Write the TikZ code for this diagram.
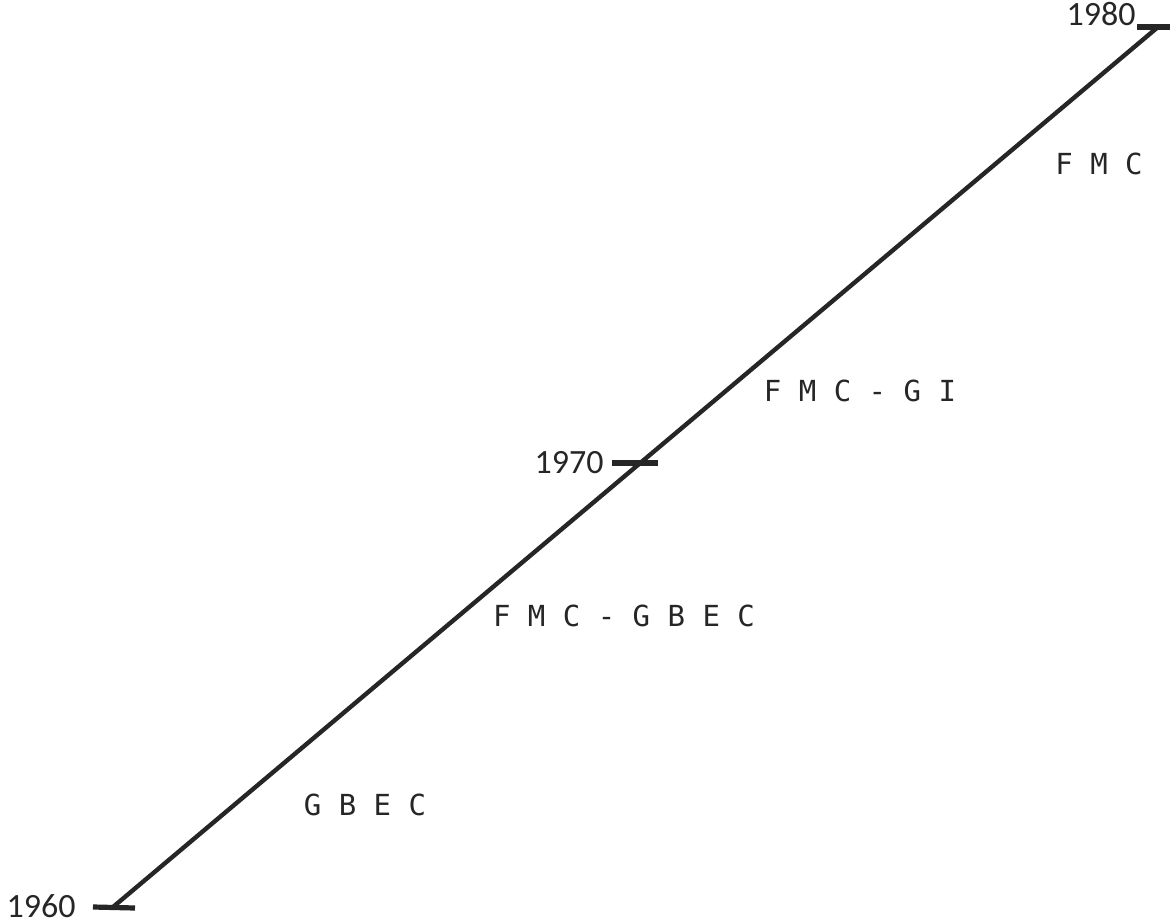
\documentclass[tikz,border=0pt]{standalone}
\usepackage{fontspec}
\newfontfamily\yearfont{Carlito}
\newfontfamily\labfont{DejaVu Sans Mono}
\begin{document}
\begin{tikzpicture}[x=0.5pt,y=-0.5pt,
  axis/.style={line width=2.2pt,color=black!85},
  tickmark/.style={line width=2.6pt,color=black!85},
  year/.style={font=\yearfont\fontsize{17}{17}\selectfont,text=black!85,inner sep=0pt},
  lab/.style={font=\labfont\fontsize{14.5}{14.5}\selectfont,text=black!85,inner sep=0pt}]
\useasboundingbox (0,0) rectangle (1170,924);
\coordinate (p60) at (113,907);
\coordinate (p70) at (634,463);
\coordinate (p80) at (1158,27);
\draw[axis] (p60) -- (p80);
\coordinate (t60a) at (93,907); \coordinate (t60b) at (135,908);
\coordinate (t70a) at (612,463); \coordinate (t70b) at (658,463);
\coordinate (t80a) at (1137,27); \coordinate (t80b) at (1170,27);
\draw[tickmark] (t60a) -- (t60b);
\draw[tickmark] (t70a) -- (t70b);
\draw[tickmark] (t80a) -- (t80b);
\node[year,anchor=east] (y60) at (76,906) {1960};
\node[year,anchor=east] (y70) at (604,463) {1970};
\node[year,anchor=east] (y80) at (1136,14) {1980};
\node[lab] (l1) at (1099,164) {F M C};
\node[lab] (l2) at (860,391) {F M C - G I};
\node[lab] (l3) at (624,616) {F M C - G B E C};
\node[lab] (l4) at (365,805) {G B E C};
\end{tikzpicture}
\end{document}
